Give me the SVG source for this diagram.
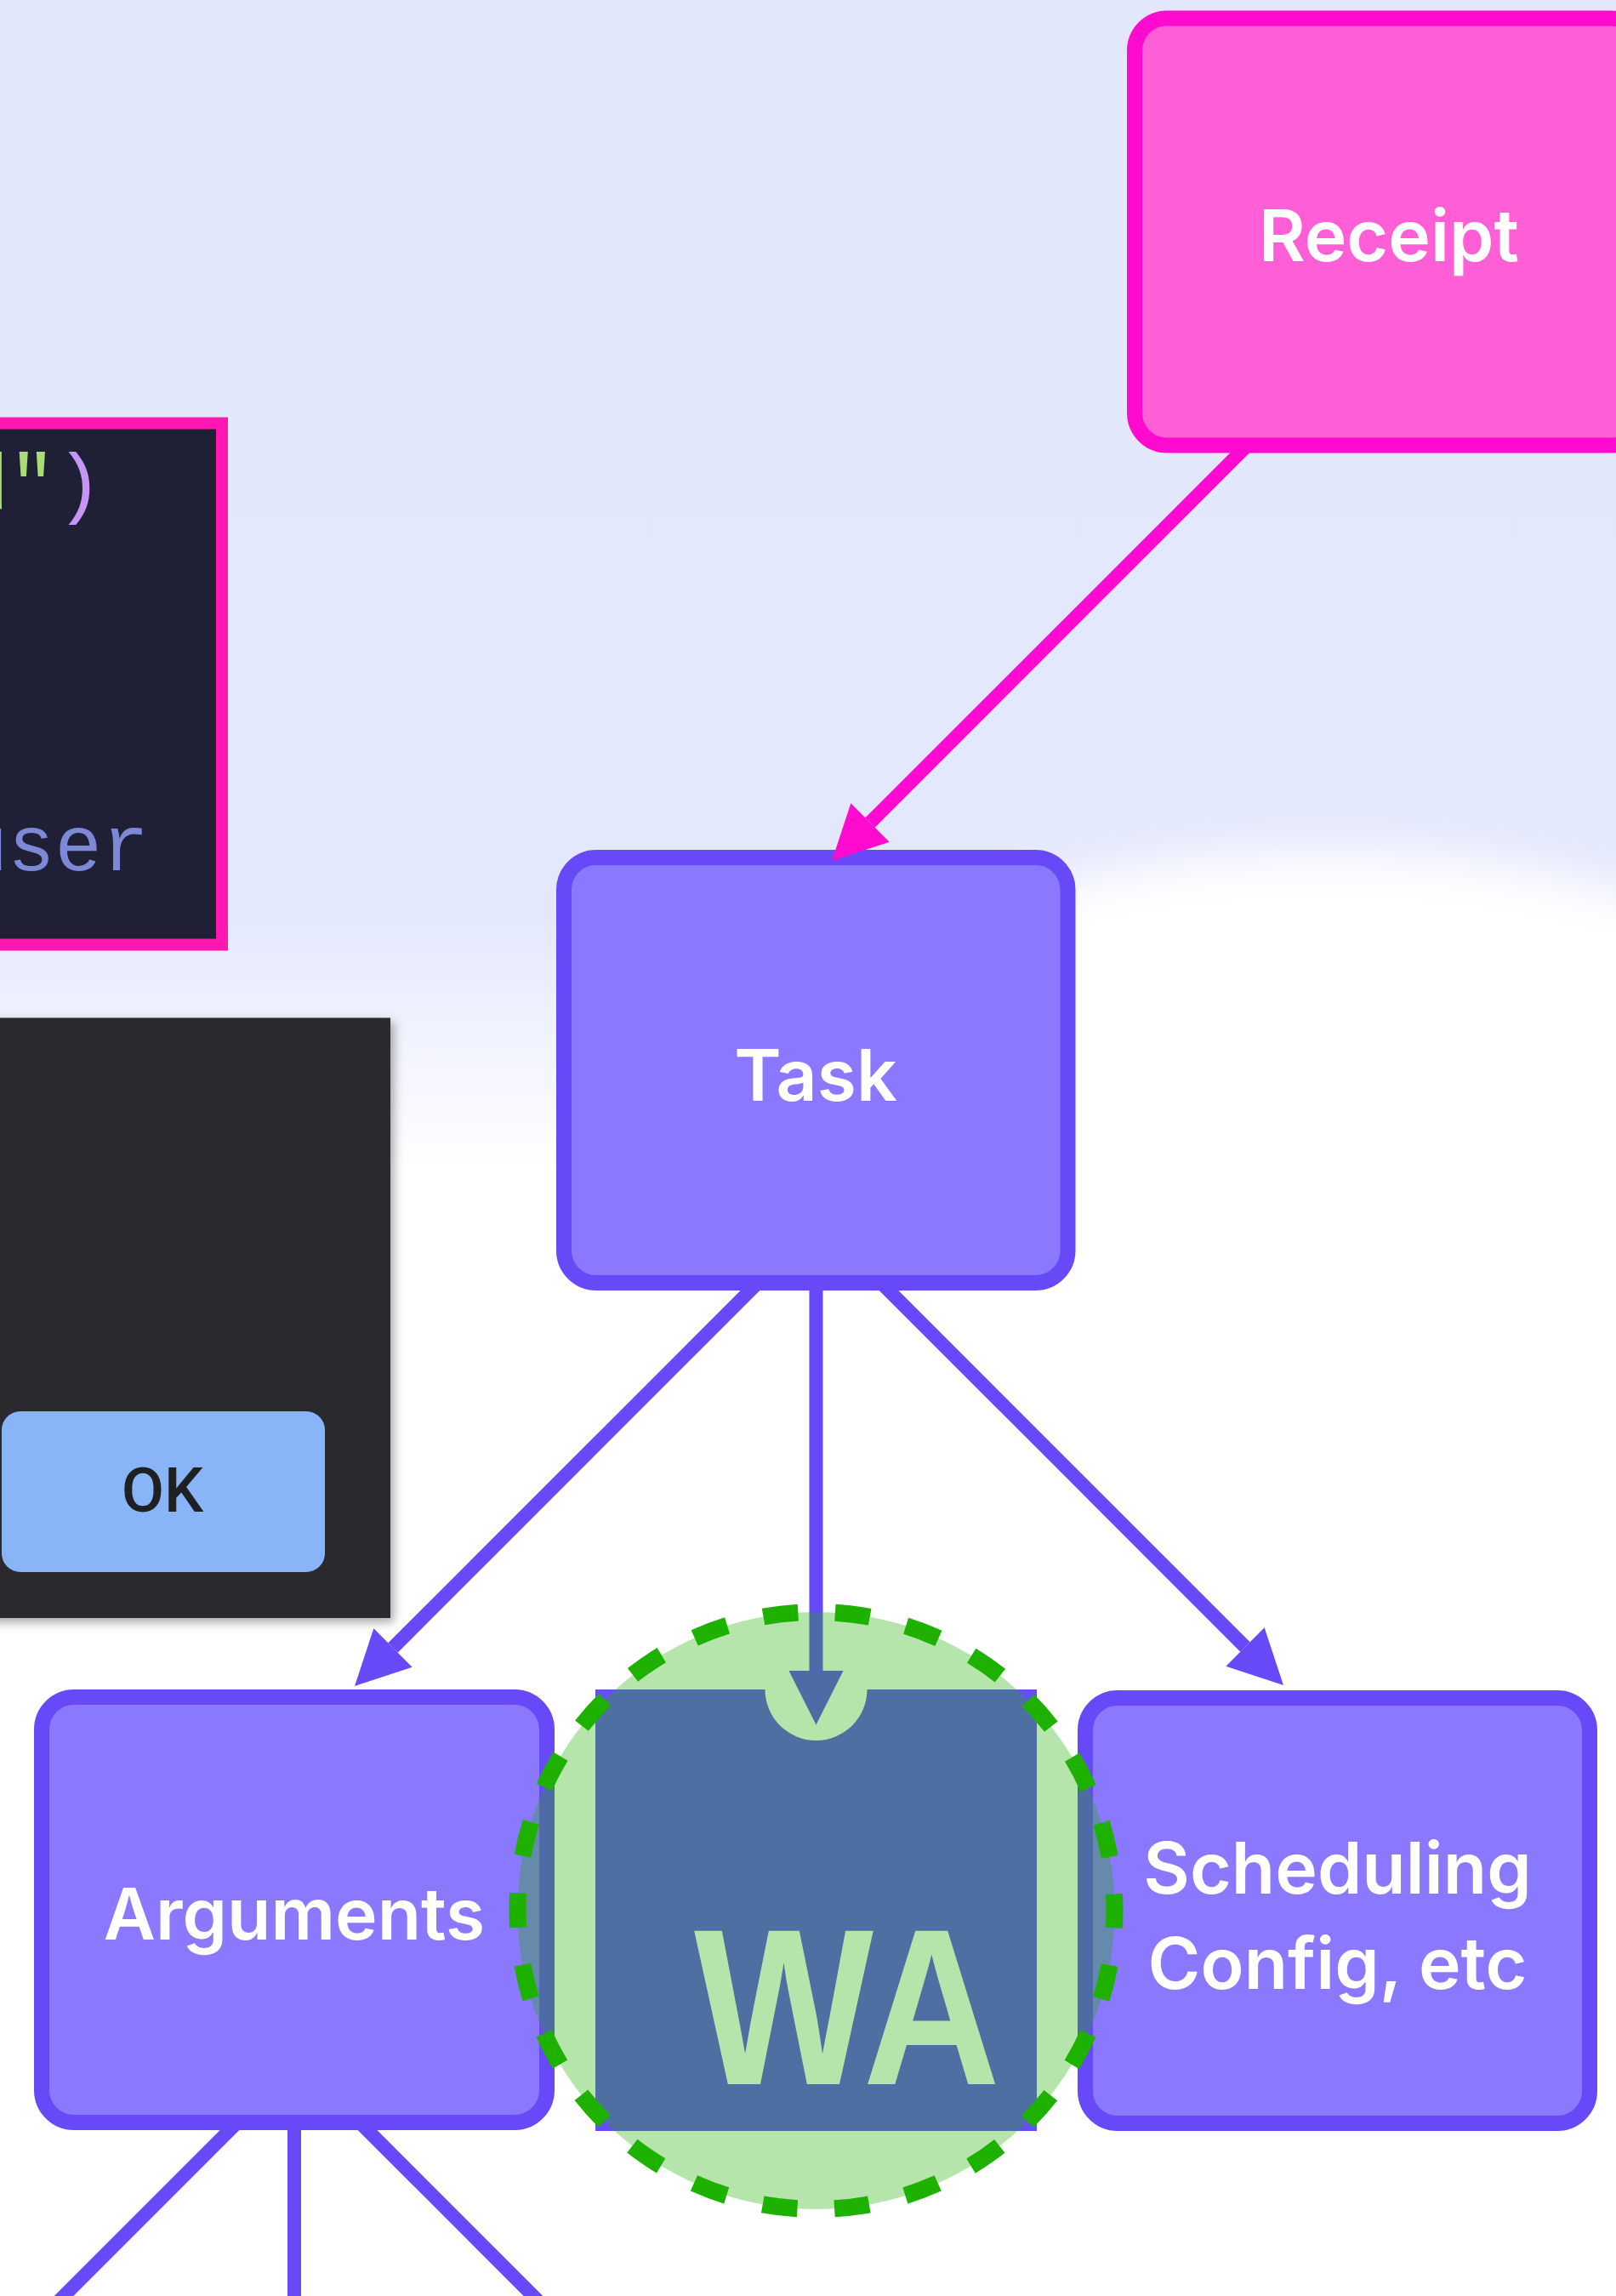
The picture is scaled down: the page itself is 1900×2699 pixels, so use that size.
<svg xmlns="http://www.w3.org/2000/svg" width="1900" height="2699" viewBox="0 0 1900 2699">
<defs>
  <linearGradient id="bgFade" gradientUnits="userSpaceOnUse" x1="0" y1="0" x2="0" y2="1380">
    <stop offset="0" stop-color="#e3e7fc"/>
    <stop offset="0.78" stop-color="#e4e8fc"/>
    <stop offset="1" stop-color="#ffffff"/>
  </linearGradient>
  <filter id="blurBig" x="-30%" y="-30%" width="160%" height="160%">
    <feGaussianBlur stdDeviation="28"/>
  </filter>
  <filter id="panelShadow" x="-10%" y="-10%" width="130%" height="130%">
    <feDropShadow dx="4" dy="5" stdDeviation="6" flood-color="#000000" flood-opacity="0.35"/>
  </filter>
  <marker id="arrowPurple" markerUnits="userSpaceOnUse" markerWidth="64" markerHeight="64" viewBox="0 -32 64 64" refX="0" refY="0" orient="auto">
    <path d="M0,-32 L63.6,0 L0,32 Z" fill="#6849f8"/>
  </marker>
  <marker id="arrowPink" markerUnits="userSpaceOnUse" markerWidth="64" markerHeight="64" viewBox="0 -32 64 64" refX="0" refY="0" orient="auto">
    <path d="M0,-32 L63.6,0 L0,32 Z" fill="#ff0acf"/>
  </marker>
</defs>
<style>
  .node-rect { fill:#8a78ff; stroke:#6849f8; stroke-width:18; }
  .pink-rect { fill:#fe5fd6; stroke:#ff0acf; stroke-width:18; }
  .label { font-family:Inter, "Liberation Sans", sans-serif; font-weight:560; font-size:84px; fill:#ffffff; text-anchor:middle; }
  .conn { fill:none; stroke:#6849f8; stroke-width:16; }
  .conn-pink { fill:none; stroke:#ff0acf; stroke-width:16; }
  .code { font-family:"Liberation Mono", "DejaVu Sans Mono", monospace; font-size:92px; }
</style>

<!-- background -->
<rect x="0" y="0" width="1900" height="2699" fill="#ffffff"/>
<rect x="0" y="0" width="1900" height="1380" fill="url(#bgFade)"/>
<ellipse cx="1560" cy="1620" rx="920" ry="620" fill="#ffffff" filter="url(#blurBig)"/>

<!-- code screenshot -->
<g id="code-panel">
  <rect x="-30" y="497.5" width="291" height="613" fill="#1f2036" stroke="#ff17b0" stroke-width="14"/>
  <text class="code" x="-45" y="598"><tspan fill="#a9dc76">d"</tspan><tspan fill="#c596f5">)</tspan></text>
  <text class="code" x="-46" y="1023" fill="#7d89d6">user</text>
</g>

<!-- dialog screenshot -->
<g id="dialog">
  <rect x="-20" y="1196.5" width="479" height="705.5" fill="#292a2f" filter="url(#panelShadow)"/>
  <rect x="2" y="1659" width="380" height="189" rx="22" fill="#8ab4f8"/>
  <text x="191" y="1777" font-family="Roboto, 'Liberation Sans', sans-serif" font-weight="500" font-size="73" fill="#1f2023" text-anchor="middle">OK</text>
</g>

<!-- nodes -->
<g id="node-receipt">
  <rect class="pink-rect" x="1334" y="21.5" width="598" height="502" rx="38"/>
  <text class="label" x="1633" y="307">Receipt</text>
</g>
<g id="node-task">
  <rect class="node-rect" x="663" y="1008" width="592.5" height="500" rx="38"/>
  <text class="label" x="959" y="1294">Task</text>
</g>
<g id="node-arguments">
  <rect class="node-rect" x="49" y="1995" width="594" height="500" rx="38"/>
  <text class="label" x="346" y="2280">Arguments</text>
</g>
<g id="node-scheduling">
  <rect class="node-rect" x="1276" y="1996" width="593" height="500" rx="38"/>
  <text class="label" x="1572.5" y="2226">Scheduling</text>
  <text class="label" x="1572.5" y="2337.5">Config, etc</text>
</g>
<g id="node-wa">
  <path d="M700,1986 H899.5 A60,60 0 0 0 1019.5,1986 H1219 V2505 H700 Z" fill="#654ff0"/>
  <text x="816" y="2450" font-family="'Liberation Sans', Arial, sans-serif" font-weight="700" font-size="262" fill="#ffffff" textLength="360" lengthAdjust="spacingAndGlyphs">WA</text>
</g>

<!-- connectors -->
<g id="connectors">
  <path class="conn-pink" d="M1467,523 L1023,967" marker-end="url(#arrowPink)"/>
  <path class="conn" d="M891,1508 L462,1937" marker-end="url(#arrowPurple)"/>
  <path class="conn" d="M959.5,1508 L959.5,1964" marker-end="url(#arrowPurple)"/>
  <path class="conn" d="M1036,1508 L1464,1936" marker-end="url(#arrowPurple)"/>
  <path class="conn" d="M279,2495 L60,2714"/>
  <path class="conn" d="M346,2495 L346,2710"/>
  <path class="conn" d="M423,2495 L642,2714"/>
</g>

<!-- highlight over WA -->
<g id="wa-highlight">
  <circle cx="959.5" cy="2246" r="351" fill="#1fb100" fill-opacity="0.33" stroke="#1fb100" stroke-width="20" stroke-dasharray="41 43.82" stroke-dashoffset="20.5"/>
</g>
</svg>
